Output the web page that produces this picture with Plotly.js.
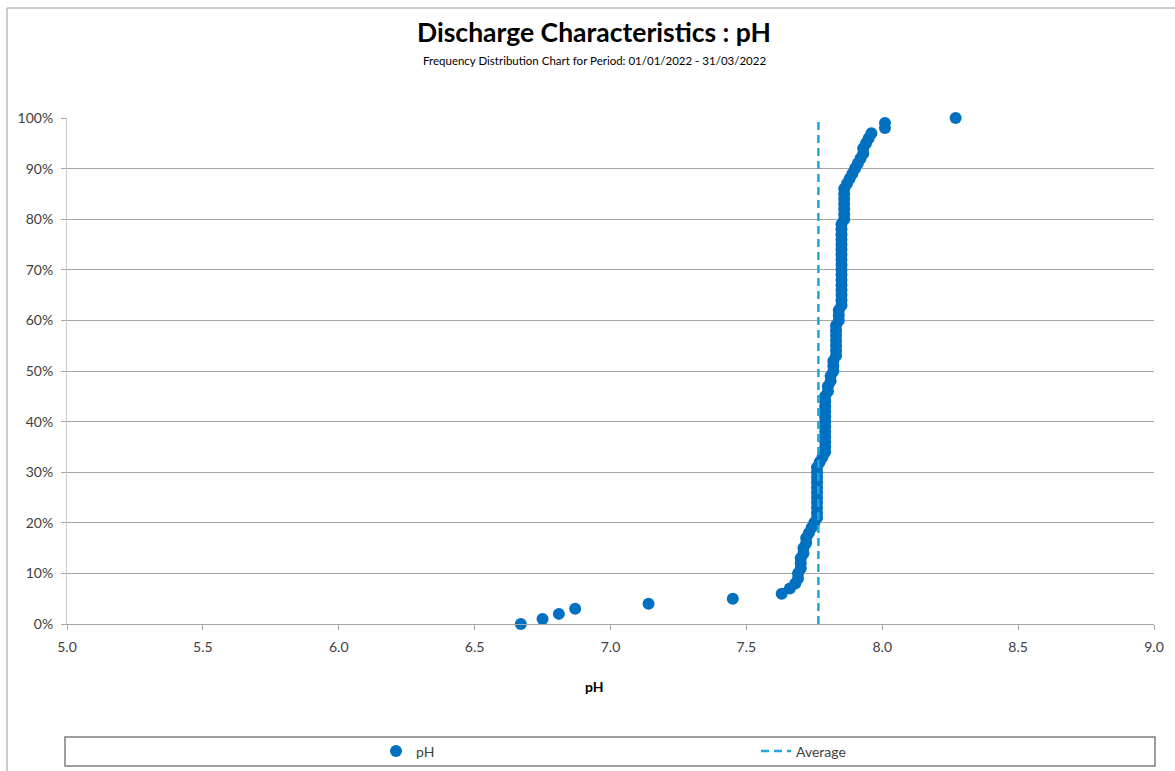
<!DOCTYPE html>
<html>
<head>
<meta charset="utf-8">
<script src="https://cdn.plot.ly/plotly-3.0.1.min.js"></script>
<style>
  html, body { margin: 0; padding: 0; background: #ffffff; }
  #chart { width: 1175px; height: 771px; }
</style>
</head>
<body>
<div id="chart"></div>
<script>
// ---- Data ----
const chartTitle = "Discharge Characteristics : pH";
const chartSubtitle = "Frequency Distribution Chart for Period: 01/01/2022 - 31/03/2022";
const xAxisTitle = "pH";
const seriesName = "pH";
const averageName = "Average";

// pH readings sorted ascending
const phValues = [
  6.67, 6.75, 6.81, 6.87, 7.14, 7.45, 7.63, 7.66, 7.68, 7.69,
  7.69, 7.70, 7.70, 7.70, 7.71, 7.71, 7.72, 7.72, 7.73, 7.74,
  7.75, 7.76, 7.76, 7.76, 7.76, 7.76, 7.76, 7.76, 7.76, 7.76,
  7.76, 7.76, 7.77, 7.78, 7.79, 7.79, 7.79, 7.79, 7.79, 7.79,
  7.79, 7.79, 7.79, 7.79, 7.79, 7.79, 7.80, 7.80, 7.81, 7.81,
  7.82, 7.82, 7.82, 7.83, 7.83, 7.83, 7.83, 7.83, 7.83, 7.83,
  7.84, 7.84, 7.84, 7.85, 7.85, 7.85, 7.85, 7.85, 7.85, 7.85,
  7.85, 7.85, 7.85, 7.85, 7.85, 7.85, 7.85, 7.85, 7.85, 7.85,
  7.86, 7.86, 7.86, 7.86, 7.86, 7.86, 7.86, 7.87, 7.88, 7.89,
  7.90, 7.91, 7.92, 7.93, 7.93, 7.94, 7.95, 7.96, 8.01, 8.01,
  8.27
];

// cumulative frequency (fraction of readings at or below)
const cumulativeFreq = [
  0.00, 0.01, 0.02, 0.03, 0.04, 0.05, 0.06, 0.07, 0.08, 0.09,
  0.10, 0.11, 0.12, 0.13, 0.14, 0.15, 0.16, 0.17, 0.18, 0.19,
  0.20, 0.21, 0.22, 0.23, 0.24, 0.25, 0.26, 0.27, 0.28, 0.29,
  0.30, 0.31, 0.32, 0.33, 0.34, 0.35, 0.36, 0.37, 0.38, 0.39,
  0.40, 0.41, 0.42, 0.43, 0.44, 0.45, 0.46, 0.47, 0.48, 0.49,
  0.50, 0.51, 0.52, 0.53, 0.54, 0.55, 0.56, 0.57, 0.58, 0.59,
  0.60, 0.61, 0.62, 0.63, 0.64, 0.65, 0.66, 0.67, 0.68, 0.69,
  0.70, 0.71, 0.72, 0.73, 0.74, 0.75, 0.76, 0.77, 0.78, 0.79,
  0.80, 0.81, 0.82, 0.83, 0.84, 0.85, 0.86, 0.87, 0.88, 0.89,
  0.90, 0.91, 0.92, 0.93, 0.94, 0.95, 0.96, 0.97, 0.98, 0.99,
  1.00
];

const averagePh = 7.765;
const averageLineY = [0, 1];

const xTickVals = [5.0, 5.5, 6.0, 6.5, 7.0, 7.5, 8.0, 8.5, 9.0];
const xTickText = ["5.0", "5.5", "6.0", "6.5", "7.0", "7.5", "8.0", "8.5", "9.0"];
const yTickVals = [0, 0.1, 0.2, 0.3, 0.4, 0.5, 0.6, 0.7, 0.8, 0.9, 1.0];
const yTickText = ["0%", "10%", "20%", "30%", "40%", "50%", "60%", "70%", "80%", "90%", "100%"];

// ---- Chart ----
const FONT = "Lato, 'Open Sans', 'Liberation Sans', sans-serif";
const W = 1175, H = 771;

const traces = [
  {
    type: "scatter",
    mode: "markers",
    name: seriesName,
    x: phValues,
    y: cumulativeFreq,
    marker: { color: "#0070C0", size: 12 },
    cliponaxis: false,
    legend: "legend"
  },
  {
    type: "scatter",
    mode: "lines",
    name: averageName,
    x: [averagePh, averagePh],
    y: averageLineY,
    line: { color: "#1BA7DE", width: 2.5, dash: "8px,5px" },
    legend: "legend2"
  }
];

const layout = {
  width: W,
  height: H,
  margin: { l: 67, r: 21, t: 118, b: 147, autoexpand: false },
  paper_bgcolor: "#ffffff",
  plot_bgcolor: "#ffffff",
  font: { family: FONT, size: 14, color: "#404040" },
  title: {
    text: "<b>" + chartTitle + "</b>",
    font: { family: FONT, size: 26.5, color: "#000000" },
    xref: "container", x: 594 / W, xanchor: "center",
    yref: "container", y: 1 - 33 / H, yanchor: "middle"
  },
  annotations: [
    {
      text: chartSubtitle,
      xref: "paper", yref: "paper",
      x: (594 - 67) / 1087, y: (624 - 60) / 506,
      xanchor: "center", yanchor: "middle",
      showarrow: false,
      font: { family: FONT, size: 11.5, color: "#000000" }
    },
    {
      text: "<b>" + xAxisTitle + "</b>",
      xref: "paper", yref: "paper",
      x: (594 - 67) / 1087, y: (624 - 686) / 506,
      xanchor: "center", yanchor: "middle",
      showarrow: false,
      font: { family: FONT, size: 14, color: "#000000" }
    }
  ],
  xaxis: {
    range: [5, 9],
    tickvals: xTickVals,
    ticktext: xTickText,
    showgrid: false,
    zeroline: false,
    showline: true,
    linecolor: "#a6a6a6",
    linewidth: 1,
    ticks: "outside",
    ticklen: 5,
    tickcolor: "#a6a6a6",
    ticklabelstandoff: 5,
    tickfont: { family: FONT, size: 14, color: "#404040" },
    automargin: false,
    fixedrange: true
  },
  yaxis: {
    range: [0, 1],
    tickvals: yTickVals,
    ticktext: yTickText,
    showgrid: true,
    gridcolor: "#a6a6a6",
    gridwidth: 1,
    zeroline: false,
    showline: true,
    linecolor: "#c8c8c8",
    linewidth: 1,
    ticks: "outside",
    ticklen: 5,
    tickcolor: "#a6a6a6",
    ticklabelstandoff: 5,
    tickfont: { family: FONT, size: 14, color: "#404040" },
    automargin: false,
    fixedrange: true
  },
  showlegend: true,
  legend: {
    orientation: "h",
    xref: "container", yref: "container",
    x: 376 / W, xanchor: "left",
    y: 1 - 751.5 / H, yanchor: "middle",
    bgcolor: "rgba(0,0,0,0)",
    borderwidth: 0,
    font: { family: FONT, size: 14, color: "#404040" }
  },
  legend2: {
    orientation: "h",
    xref: "container", yref: "container",
    x: 756 / W, xanchor: "left",
    y: 1 - 751.5 / H, yanchor: "middle",
    bgcolor: "rgba(0,0,0,0)",
    borderwidth: 0,
    font: { family: FONT, size: 14, color: "#404040" }
  },
  shapes: [
    {
      type: "rect", xref: "paper", yref: "paper",
      x0: (65 - 67) / 1087, x1: (1155 - 67) / 1087,
      y0: (624 - 737) / 506, y1: (624 - 766) / 506,
      line: { color: "#7f7f7f", width: 1.5 },
      fillcolor: "rgba(0,0,0,0)",
      layer: "below"
    },
    {
      type: "rect", xref: "paper", yref: "paper",
      x0: (7 - 67) / 1087, x1: (1185 - 67) / 1087,
      y0: (624 - 8) / 506, y1: (624 - 785) / 506,
      line: { color: "#9a9a9a", width: 1 },
      fillcolor: "rgba(0,0,0,0)",
      layer: "below"
    }
  ]
};

Plotly.newPlot("chart", traces, layout, { displayModeBar: false, staticPlot: true });
</script>
</body>
</html>
